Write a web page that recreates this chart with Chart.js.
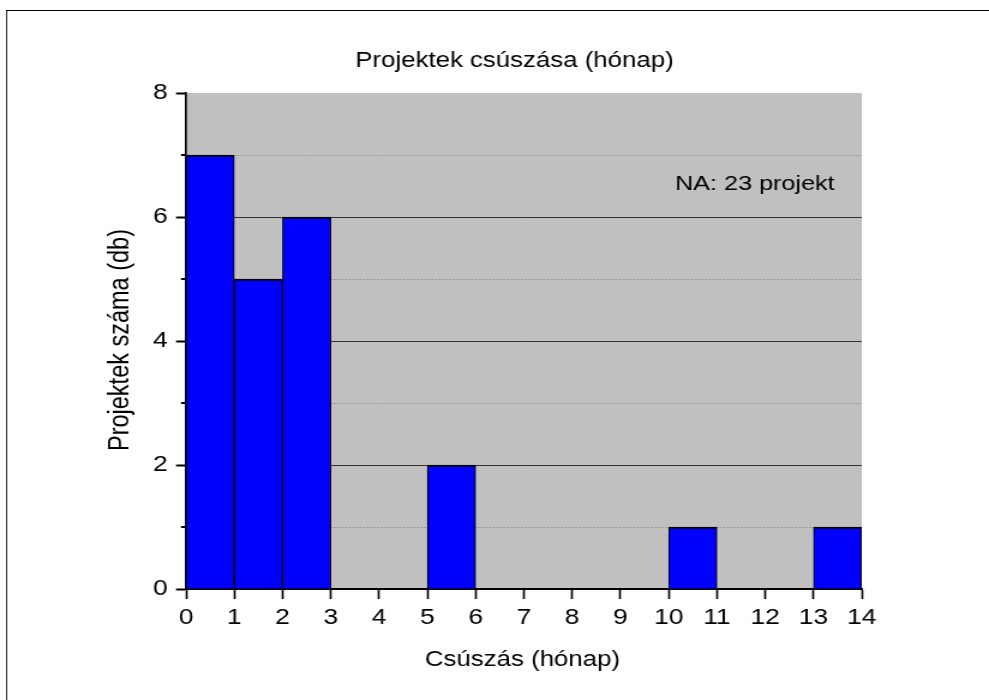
<!DOCTYPE html>
<html>
<head>
<meta charset="utf-8">
<title>Projektek csúszása</title>
<script src="https://cdn.jsdelivr.net/npm/chart.js@4.4.0/dist/chart.umd.min.js"></script>
<style>
  html, body { margin: 0; padding: 0; background: #ffffff; overflow: hidden; }
  /* the reference is stretched horizontally, so the canvas is drawn narrow and scaled */
  #histChart { display: block; width: 824px; height: 700px; transform: scaleX(1.2002); transform-origin: 0 0; }
</style>
</head>
<body>
<canvas id="histChart" width="824" height="700"></canvas>
<script>
// ==================== DATA ====================
const binStarts = [0, 1, 2, 3, 4, 5, 6, 7, 8, 9, 10, 11, 12, 13];
const binCounts = [7, 5, 6, 0, 0, 2, 0, 0, 0, 0, 1, 0, 0, 1];
const xTickLabels = [0, 1, 2, 3, 4, 5, 6, 7, 8, 9, 10, 11, 12, 13, 14];
const yTickLabels = [0, 2, 4, 6, 8];
const yMinorTicks = [1, 3, 5, 7];

const chartTitle = "Projektek csúszása (hónap)";
const xAxisTitle = "Csúszás (hónap)";
const yAxisTitle = "Projektek száma (db)";
const naNote = "NA: 23 projekt";

// ==================== LOOK ====================
const SX = 989 / 824; // horizontal stretch of the canvas
const FONT = "'Liberation Sans', Arial, sans-serif";

Chart.defaults.font.family = FONT;
Chart.defaults.color = "#000000";

// Helper: is this a labelled (even) y tick
function isMajor(ctx) {
  return ctx.tick && yTickLabels.includes(ctx.tick.value);
}

// Background, frame, minor ticks and the free texts
const decorPlugin = {
  id: "decor",
  beforeDraw(chart) {
    const { ctx, chartArea: a, width, height } = chart;
    ctx.save();
    ctx.fillStyle = "#ffffff";
    ctx.fillRect(0, 0, width, height);
    // outer frame, top and left only
    ctx.fillStyle = "#000000";
    ctx.fillRect(6 / SX, 10, width, 1);
    ctx.fillRect(6 / SX, 10, 1 / SX, height);
    // plot background
    ctx.fillStyle = "#c0c0c0";
    ctx.fillRect(a.left, a.top, a.right - a.left, a.bottom - a.top);
    ctx.restore();
  },
  afterDraw(chart) {
    const { ctx, chartArea: a } = chart;
    const yScale = chart.scales.y;
    ctx.save();

    // short minor ticks on the y axis
    ctx.strokeStyle = "#000000";
    ctx.lineWidth = 2;
    yMinorTicks.forEach((v) => {
      const py = Math.round(yScale.getPixelForValue(v));
      ctx.beginPath();
      ctx.moveTo(a.left - 5 / SX, py);
      ctx.lineTo(a.left, py);
      ctx.stroke();
    });

    ctx.fillStyle = "#000000";
    ctx.textBaseline = "alphabetic";

    // title
    ctx.font = "21.5px " + FONT;
    ctx.textAlign = "center";
    ctx.fillText(chartTitle, 514.5 / SX, 67);

    // x axis title
    ctx.fillText(xAxisTitle, 522.5 / SX, 666);

    // NA note
    ctx.font = "21px " + FONT;
    ctx.textAlign = "left";
    ctx.fillText(naNote, 675 / SX, 190);

    // y axis title (rotated)
    ctx.translate(129 / SX, 340);
    ctx.rotate(-Math.PI / 2);
    ctx.textAlign = "center";
    ctx.font = "23.5px " + FONT;
    ctx.fillText(yAxisTitle, 0, 0);

    ctx.restore();
  },
};

// ==================== CHART ====================
const histData = binStarts.map((start, i) => ({ x: start + 0.5, y: binCounts[i] }));

new Chart(document.getElementById("histChart"), {
  type: "bar",
  data: {
    datasets: [
      {
        label: chartTitle,
        data: histData,
        backgroundColor: "#0000ff",
        borderColor: "#000000",
        borderWidth: { top: 2, left: 1.1, right: 1.1, bottom: 0 },
        borderSkipped: "start",
        barPercentage: 1,
        categoryPercentage: 1,
      },
    ],
  },
  options: {
    responsive: false,
    animation: false,
    events: [],
    layout: {
      padding: { top: 93, left: 0, right: 106, bottom: 0 },
    },
    plugins: {
      legend: { display: false },
      title: { display: false },
      tooltip: { enabled: false },
    },
    scales: {
      x: {
        type: "linear",
        min: 0,
        max: 14,
        offset: false,
        afterFit(scale) {
          scale.height = 111;
          scale.paddingLeft = 0;
          scale.paddingRight = 0;
        },
        ticks: {
          stepSize: 1,
          padding: 6,
          maxRotation: 0,
          autoSkip: false,
          font: { size: 22 },
          color: "#000000",
          callback: (v) => (xTickLabels.includes(v) ? String(v) : ""),
        },
        grid: {
          offset: false,
          drawOnChartArea: false,
          drawTicks: true,
          tickLength: 10,
          tickWidth: 2 / SX,
          tickColor: "#000000",
        },
        border: { display: true, color: "#000000", width: 2 },
      },
      y: {
        type: "linear",
        min: 0,
        max: 8,
        afterFit(scale) {
          scale.width = 155;
          scale.paddingTop = 0;
          scale.paddingBottom = 0;
        },
        ticks: {
          stepSize: 1,
          padding: 7,
          autoSkip: false,
          font: { size: 22 },
          color: "#000000",
          callback: (v) => (yTickLabels.includes(v) ? String(v) : ""),
        },
        grid: {
          drawOnChartArea: true,
          drawTicks: true,
          tickLength: 10 / SX,
          tickWidth: 2,
          lineWidth: 1,
          color: (ctx) => {
            if (!ctx.tick) return "transparent";
            const v = ctx.tick.value;
            if (v === 0 || v === 8) return "transparent";
            return isMajor(ctx) ? "#333333" : "#7a7a7a";
          },
          tickColor: (ctx) => (isMajor(ctx) ? "#000000" : "transparent"),
        },
        border: {
          display: true,
          color: "#000000",
          width: 2 / SX,
          dash: (ctx) => (ctx.tick && !isMajor(ctx) ? [1, 2] : []),
        },
      },
    },
  },
  plugins: [decorPlugin],
});
</script>
</body>
</html>
